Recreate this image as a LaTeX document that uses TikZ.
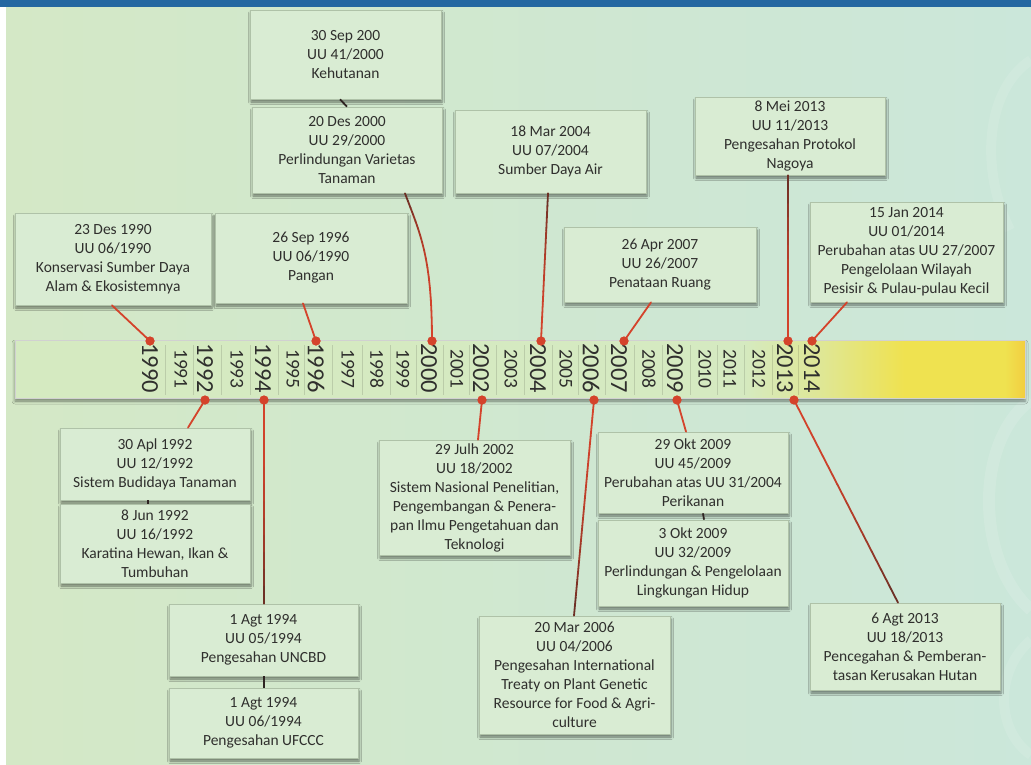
\documentclass[tikz,border=0pt]{standalone}
\usepackage{fontspec}
\setmainfont{Carlito}
\usetikzlibrary{calc,shadows.blur}

\definecolor{bgleft}{HTML}{D4E8C6}
\definecolor{bgright}{HTML}{CBE7DA}
\definecolor{topbar}{HTML}{2467A1}
\definecolor{boxfill}{HTML}{D9ECD3}
\definecolor{boxline}{HTML}{AFC2A8}
\definecolor{txt}{HTML}{2F2F2D}
\definecolor{connred}{HTML}{D4432B}
\definecolor{conndark}{HTML}{2E2422}
\definecolor{bargreen}{HTML}{D5EAC1}
\definecolor{baryellow}{HTML}{EFE250}

% the filled path covers 25bp..75bp of the shading
\pgfdeclarehorizontalshading{barshade}{100bp}{color(0bp)=(bargreen); color(25bp)=(bargreen); color(61bp)=(bargreen); color(65bp)=(baryellow!40!bargreen); color(69bp)=(baryellow); color(74bp)=(baryellow); color(75bp)=(baryellow!80!orange); color(100bp)=(baryellow!80!orange)}

% segments of a connector, red at the timeline end, darker towards the box
\newcommand\fadesegs[2]{%
  \foreach \k in {1,...,#2}{%
    \pgfmathtruncatemacro\kp{\k-1}%
    \pgfmathtruncatemacro\mix{100-62*(\kp/(#2-1))^2}%
    \draw[conn, draw=connred!\mix!conndark] (#1-\kp) -- (#1-\k);}}
\newcommand\fadeline[3]{%
  \path (#1) -- (#2) \foreach \k in {0,...,12}{coordinate[pos=\k/12] (#3-\k)};
  \fadesegs{#3}{12}}

\begin{document}
\begin{tikzpicture}[x=1pt,y=-1pt,
  box/.style={rectangle, fill=boxfill, draw=boxline, line width=0.7pt,
    align=center, inner sep=0pt, text=txt, font=\fontsize{15.5}{19}\selectfont,
    blur shadow={shadow xshift=1pt, shadow yshift=-3pt, shadow blur radius=2.5pt, shadow opacity=50}},
  yearbig/.style={rotate=-90, anchor=west, inner sep=0pt, text=txt, font=\fontsize{24.5}{24.5}\selectfont},
  yearsmall/.style={rotate=-90, anchor=west, inner sep=0pt, text=txt, font=\fontsize{19.5}{19.5}\selectfont},
  dot/.style={circle, fill=connred, inner sep=0pt, minimum size=9pt},
  conn/.style={line width=1.8pt, line cap=round},
  link/.style={line width=1.8pt, draw=conndark},
  sep/.style={draw=black, opacity=0.12, line width=0.6pt}]
\useasboundingbox (0,0) rectangle (1031,765);

% page background
\fill[white] (0,0) rectangle (1031,765);
\shade[left color=bgleft, right color=bgright] (6,0) rectangle (1031,765);
\draw[white, opacity=0.12, line width=12pt] (1031,400) .. controls (975,440) and (975,560) .. (1031,610);
\draw[white, opacity=0.1, line width=10pt] (1031,640) .. controls (995,670) and (995,730) .. (1031,755);
\draw[white, opacity=0.1, line width=10pt] (1031,60) .. controls (985,90) and (980,170) .. (1010,230);
\fill[topbar] (0,0) rectangle (1031,7);

% timeline bar
\node[shade, shading=barshade, draw=black!18, line width=0.6pt, minimum width=1010pt, minimum height=58pt, inner sep=0pt,
  blur shadow={shadow xshift=0pt, shadow yshift=-3pt, shadow blur radius=3pt, shadow opacity=45}] (bar) at (520,369) {};

% thin separators between the years
\foreach \sx in {165.5,193,221,250,278,304.5,332,362.5,390,416,443,469,496,524.5,552,578.5,605,634,662,690,717.5,744.5,772,798.5}
  \draw[sep] (\sx,345) -- (\sx,395);

% year labels
\foreach \yr/\xx in {1990/150,1992/205,1994/263,1996/316,2000/429,2002/481,2004/538,2006/591,2007/619,2009/675,2013/785,2014/812}
  \node[yearbig] (y\yr) at (\xx,343) {\yr};
\foreach \yr/\xx in {1991/181,1993/237,1995/293,1997/348,1998/377,1999/403,2001/457,2003/511,2005/566,2008/649,2010/705,2011/730,2012/759}
  \node[yearsmall] (y\yr) at (\xx,349) {\yr};

% boxes above the timeline
\node[box, minimum width=191pt, minimum height=89pt] (A) at (345.5,54.5) {30 Sep 200\\UU 41/2000\\Kehutanan};
\node[box, minimum width=190pt, minimum height=86pt] (B) at (347,150) {20 Des 2000\\UU 29/2000\\Perlindungan Varietas\\Tanaman};
\node[box, minimum width=191pt, minimum height=83pt] (C) at (550.5,151.5) {18 Mar 2004\\UU 07/2004\\Sumber Daya Air};
\node[box, minimum width=190pt, minimum height=78pt] (D) at (790,136) {8 Mei 2013\\UU 11/2013\\Pengesahan Protokol\\Nagoya};
\node[box, minimum width=196pt, minimum height=92pt] (E) at (113,259) {23 Des 1990\\UU 06/1990\\Konservasi Sumber Daya\\Alam \& Ekosistemnya};
\node[box, minimum width=192pt, minimum height=90pt] (F) at (311,258) {26 Sep 1996\\UU 06/1990\\Pangan};
\node[box, minimum width=192pt, minimum height=75pt] (G) at (660,264.5) {26 Apr 2007\\UU 26/2007\\Penataan Ruang};
\node[box, minimum width=193pt, minimum height=100pt] (H) at (906.5,252) {15 Jan 2014\\UU 01/2014\\Perubahan atas UU 27/2007\\Pengelolaan Wilayah\\Pesisir \& Pulau-pulau Kecil};

% boxes below the timeline
\node[box, minimum width=190pt, minimum height=72pt] (I) at (155,464) {30 Apl 1992\\UU 12/1992\\Sistem Budidaya Tanaman};
\node[box, minimum width=190pt, minimum height=79pt] (J) at (155,543.5) {8 Jun 1992\\UU 16/1992\\Karatina Hewan, Ikan \&\\Tumbuhan};
\node[box, minimum width=189pt, minimum height=72pt] (K) at (263.5,640) {1 Agt 1994\\UU 05/1994\\Pengesahan UNCBD};
\node[box, minimum width=189pt, minimum height=70pt] (L) at (263.5,723) {1 Agt 1994\\UU 06/1994\\Pengesahan UFCCC};
\node[box, minimum width=191pt, minimum height=115pt] (M) at (474.5,497.5) {29 Julh 2002\\UU 18/2002\\Sistem Nasional Penelitian,\\Pengembangan \& Penera-\\pan Ilmu Pengetahuan dan\\Teknologi};
\node[box, minimum width=191pt, minimum height=118pt] (N) at (574.5,675) {20 Mar 2006\\UU 04/2006\\Pengesahan International\\Treaty on Plant Genetic\\Resource for Food \& Agri-\\culture};
\node[box, minimum width=190pt, minimum height=81pt] (O) at (693,472.5) {29 Okt 2009\\UU 45/2009\\Perubahan atas UU 31/2004\\Perikanan};
\node[box, minimum width=190pt, minimum height=86pt] (P) at (693,563) {3 Okt 2009\\UU 32/2009\\Perlindungan \& Pengelolaan\\Lingkungan Hidup};
\node[box, minimum width=190pt, minimum height=87pt] (Q) at (905,646.5) {6 Agt 2013\\UU 18/2013\\Pencegahan \& Pemberan-\\tasan Kerusakan Hutan};

% markers on the timeline
\node[dot] (d1990) at (150,341) {};
\node[dot] (d1996) at (316,341) {};
\node[dot] (d2000) at (432,341) {};
\node[dot] (d2004) at (541,341) {};
\node[dot] (d2007) at (624,341) {};
\node[dot] (d2013a) at (788,341) {};
\node[dot] (d2014) at (812,341) {};
\node[dot] (d1992) at (205,400) {};
\node[dot] (d1994) at (264,400) {};
\node[dot] (d2002) at (482,400) {};
\node[dot] (d2006) at (594,400) {};
\node[dot] (d2009) at (677,400) {};
\node[dot] (d2013b) at (794,400) {};

% attachment points on the boxes
\coordinate (aE) at ($(E.south)+(-1,0)$);
\coordinate (aF) at ($(F.south)+(-8,0)$);
\coordinate (aB) at ($(B.south)+(58,0)$);
\coordinate (aC) at ($(C.south)+(-2.5,0)$);
\coordinate (aG) at ($(G.south)+(-9,0)$);
\coordinate (aD) at ($(D.south)+(-2,0)$);
\coordinate (aH) at ($(H.south)+(-59.5,0)$);
\coordinate (aI) at ($(I.north)+(33,0)$);
\coordinate (aK) at ($(K.north)+(0.5,0)$);
\coordinate (aM) at ($(M.north)+(3.5,0)$);
\coordinate (aN) at ($(N.north)+(-0.5,0)$);
\coordinate (aO) at ($(O.north)+(-7,0)$);
\coordinate (aQ) at ($(Q.north)+(-7,0)$);

% short red connectors
\draw[conn, draw=connred] (d1990.center) -- (aE);
\draw[conn, draw=connred] (d1996.center) -- (aF);
\draw[conn, draw=connred] (d2007.center) -- (aG);
\draw[conn, draw=connred] (d2014.center) -- (aH);
\draw[conn, draw=connred] (d1992.center) -- (aI);
\draw[conn, draw=connred] (d2002.center) -- (aM);
\draw[conn, draw=connred] (d2009.center) -- (aO);

% long connectors, darkening towards the box
\fadeline{d2004.center}{aC}{cC}
\fadeline{d2013a.center}{aD}{cD}
\fadeline{d1994.center}{aK}{cK}
\fadeline{d2006.center}{aN}{cN}
\fadeline{d2013b.center}{aQ}{cQ}
\path (d2000.center) .. controls +(0,-85) and +(15,40) .. (aB)
  \foreach \k in {0,...,16}{coordinate[pos=\k/16] (cB-\k)};
\fadesegs{cB}{16}

% links between stacked boxes
\draw[link] ($(A.south)+(-5.5,0)$) -- (B.north);
\draw[link] ($(I.south)+(-7,0)$) -- ($(J.north)+(-7,0)$);
\draw[link] ($(K.south)+(0.5,0)$) -- ($(L.north)+(0.5,0)$);
\draw[link] ($(O.south)+(10,0)$) -- ($(P.north)+(11,0)$);

% redraw markers above the connectors
\foreach \d in {d1990,d1996,d2000,d2004,d2007,d2013a,d2014,d1992,d1994,d2002,d2006,d2009,d2013b}
  \fill[connred] (\d) circle (4.5pt);
\end{tikzpicture}
\end{document}
